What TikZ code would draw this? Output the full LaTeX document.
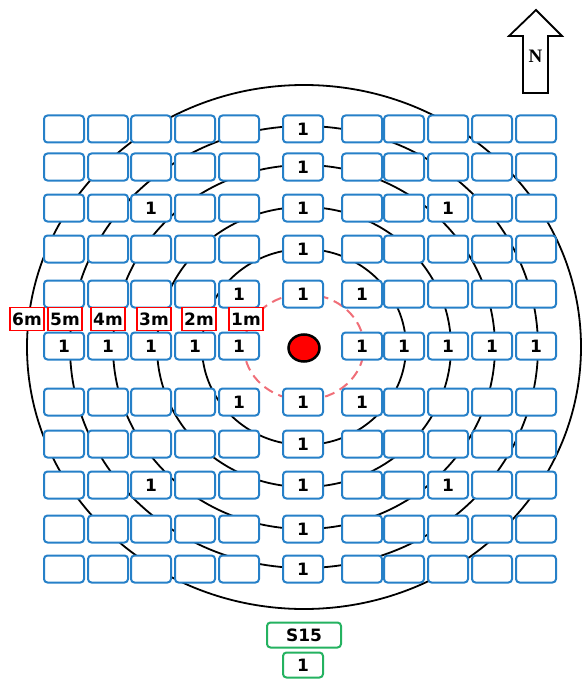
\documentclass[tikz,border=0pt]{standalone}
\usepackage{fontspec}
\setmainfont{DejaVu Sans}
\newfontfamily\serifnorth{Liberation Serif}
\usetikzlibrary{shapes.geometric,positioning}
\definecolor{plotblue}{RGB}{38,128,200}
\definecolor{plotgreen}{RGB}{36,178,96}
\definecolor{ringred}{RGB}{240,110,120}

\tikzset{
  plot/.style={draw=plotblue,line width=2pt,fill=white,rounded corners=3.5pt,
    minimum width=40pt,minimum height=27pt,inner sep=0pt},
  hit/.style={font=\bfseries\fontsize{17}{19}\selectfont,inner sep=0pt},
  dist/.style={draw=red,line width=1.6pt,fill=white,minimum width=34pt,minimum height=23pt,
    inner sep=0pt,font=\bfseries\fontsize{17}{19}\selectfont},
  src/.style={draw=plotgreen,line width=2pt,fill=white,rounded corners=3.5pt,
    minimum height=25pt,inner sep=0pt,font=\bfseries\fontsize{17}{19}\selectfont},
  ring/.style={line width=1.8pt}
}

\begin{document}
\begin{tikzpicture}[x=1pt,y=-1pt]
\useasboundingbox (0,0) rectangle (581,679);
% distance rings round the site
\coordinate (c) at (304,347);
\foreach \rx/\ry in {102/98,147/140,191/182,234/221,277/262}
  \draw[ring] (c) ellipse [x radius=\rx pt,y radius=\ry pt];
\draw[ringred,line width=2pt,dash pattern=on 10pt off 6pt] (c) ellipse [x radius=60pt,y radius=53pt];
% plot grid
\foreach \y [count=\r] in {129,167,208,249,294,346,402,444,485,529,569}
  \foreach \x [count=\k] in {64,108,151,195,239,303,362,404,448,492,536} {
    \ifnum\r\k=66 \else \node[plot] (p-\r-\k) at (\x,\y) {}; \fi
  };
\foreach \r/\k in {1/6,2/6,3/3,3/6,3/9,4/6,5/5,5/6,5/7,6/1,6/2,6/3,6/4,6/5,6/7,6/8,6/9,6/10,6/11,
                   7/5,7/6,7/7,8/6,9/3,9/6,9/9,10/6,11/6}
  \node[hit] (h-\r-\k) at (p-\r-\k) {1};
% distance labels
\foreach \t/\x in {6m/27,5m/65,4m/108,3m/154,2m/199,1m/246}
  \node[dist] (d-\t) at (\x,319) {\t};
% source
\node[ellipse,draw,line width=2.5pt,fill=red,minimum width=31pt,minimum height=27pt,inner sep=0pt] (site) at (304,348) {};
\node[src,minimum width=74pt] (s15) at (304,635) {S15};
\node[src,minimum width=40pt] (s15-n) at (303,665) {1};
% north arrow
\draw[line width=1.8pt] (523,93) -- (523,36) -- (509,36) -- (536,10) -- (562,36) -- (548,36) -- (548,93) -- cycle;
\node[font=\serifnorth\bfseries\fontsize{19}{21}\selectfont] (north) at (535.5,56) {N};
\end{tikzpicture}
\end{document}
